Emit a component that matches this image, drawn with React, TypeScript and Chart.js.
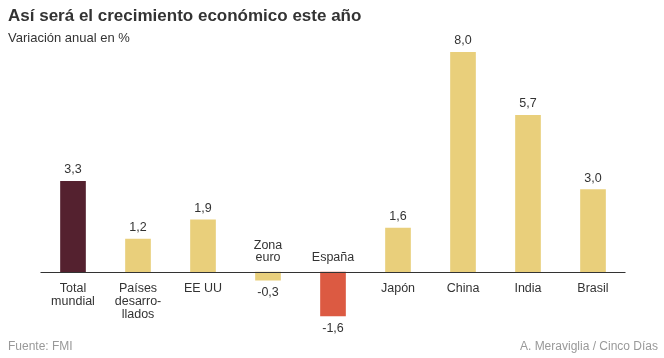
import React, { useEffect, useRef } from "react";
import { Chart, registerables } from "chart.js";

Chart.register(...registerables);

const categories: string[][] = [
  ["Total", "mundial"],
  ["Países", "desarro-", "llados"],
  ["EE UU"],
  ["Zona", "euro"],
  ["España"],
  ["Japón"],
  ["China"],
  ["India"],
  ["Brasil"],
];
const values: number[] = [3.3, 1.2, 1.9, -0.3, -1.6, 1.6, 8.0, 5.7, 3.0];
const barColors: string[] = [
  "#54212f",
  "#e9cf7b",
  "#e9cf7b",
  "#e9cf7b",
  "#dc5a42",
  "#e9cf7b",
  "#e9cf7b",
  "#e9cf7b",
  "#e9cf7b",
];
const titleText = "Así será el crecimiento económico este año";
const subtitleText = "Variación anual en %";
const sourceText = "Fuente: FMI";
const creditText = "A. Meraviglia / Cinco Días";

const FONT = "Arial, 'Liberation Sans', sans-serif";

const fmt = (v: number) => v.toFixed(1).replace(".", ",");

const labelPlugin = {
  id: "labels",
  afterDatasetsDraw(chart: any) {
    const ctx = chart.ctx as CanvasRenderingContext2D;
    const yScale = chart.scales.y;
    const area = chart.chartArea;
    const zero = yScale.getPixelForValue(0);
    ctx.save();
    // zero line
    ctx.strokeStyle = "#333333";
    ctx.lineWidth = 1;
    ctx.beginPath();
    ctx.moveTo(area.left, Math.round(zero) + 0.5);
    ctx.lineTo(area.right, Math.round(zero) + 0.5);
    ctx.stroke();

    const meta = chart.getDatasetMeta(0);
    ctx.fillStyle = "#333333";
    ctx.font = `12.5px ${FONT}`;
    ctx.textAlign = "center";
    ctx.textBaseline = "alphabetic";
    meta.data.forEach((bar: any, i: number) => {
      const v = values[i];
      const x = bar.x;
      const lines = categories[i];
      if (v >= 0) {
        ctx.fillText(fmt(v), x, bar.y - 8);
        lines.forEach((ln, k) => ctx.fillText(ln, x, zero + 20 + k * 13));
      } else {
        ctx.fillText(fmt(v), x, bar.y + 16);
        const n = lines.length;
        lines.forEach((ln, k) =>
          ctx.fillText(ln, x, zero - 11.5 - (n - 1 - k) * 12)
        );
      }
    });

    // title & subtitle
    ctx.textAlign = "left";
    ctx.fillStyle = "#333333";
    ctx.font = `bold 17px ${FONT}`;
    ctx.fillText(titleText, 8, 21);
    ctx.font = `13px ${FONT}`;
    ctx.fillText(subtitleText, 8, 42);

    // footer
    ctx.fillStyle = "#999999";
    ctx.font = `12px ${FONT}`;
    ctx.fillText(sourceText, 8, 350);
    ctx.textAlign = "right";
    ctx.fillText(creditText, 658, 350);
    ctx.restore();
  },
};

export default function App() {
  const ref = useRef<HTMLCanvasElement>(null);
  useEffect(() => {
    document.body.style.margin = "0";
    const chart = new Chart(ref.current!, {
      type: "bar",
      data: {
        labels: categories.map((c) => c.join(" ")),
        datasets: [
          {
            data: values,
            backgroundColor: barColors,
            barThickness: 25,
            borderWidth: 0,
          },
        ],
      },
      options: {
        animation: false,
        responsive: false,
        maintainAspectRatio: false,
        layout: { padding: { top: 52, bottom: 31, left: 40.5, right: 38.5 } },
        plugins: {
          legend: { display: false },
          tooltip: { enabled: false },
          title: { display: false },
        },
        scales: {
          x: { display: false, grid: { display: false } },
          y: { display: false, min: -2, max: 8 },
        },
      },
      plugins: [labelPlugin],
    });
    return () => chart.destroy();
  }, []);
  return (
    <div style={{ width: 664, height: 358, background: "#ffffff" }}>
      <canvas ref={ref} width={664} height={358} style={{ display: "block" }} />
    </div>
  );
}
